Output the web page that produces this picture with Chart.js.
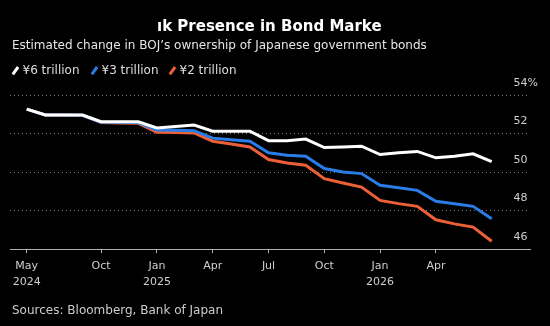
<!DOCTYPE html>
<html>
<head>
<meta charset="utf-8">
<script src="https://cdn.jsdelivr.net/npm/chart.js@4.4.1/dist/chart.umd.min.js"></script>
<style>
html, body { margin: 0; padding: 0; background: #000; }
#wrap { position: relative; width: 550px; height: 326px; overflow: hidden; font-family: "DejaVu Sans", sans-serif; color: #ddd; }
#chart { position: absolute; left: 0; top: 0; }
.txt { position: absolute; white-space: nowrap; }
.title { left: 157px; top: 17px; font-size: 15px; line-height: 18px; font-weight: bold; color: #fff; }
.subtitle { left: 12px; top: 37px; font-size: 12px; line-height: 16px; color: #e6e6e6; }
.legend { top: 63px; font-size: 12px; line-height: 14px; color: #ddd; }
.legend i { display: inline-block; width: 2.5px; height: 9px; margin: 0 6px 0 2px; vertical-align: -1px; transform: rotate(36deg); }
.source { left: 12px; top: 303px; font-size: 12px; line-height: 14px; color: #ccc; }
</style>
</head>
<body>
<div id="wrap">
  <canvas id="chart" width="550" height="326"></canvas>
  <div class="txt title">ık Presence in Bond Marke</div>
  <div class="txt subtitle">Estimated change in BOJ’s ownership of Japanese government bonds</div>
  <div class="txt legend" id="legend"></div>
  <div class="txt source">Sources: Bloomberg, Bank of Japan</div>
</div>
<script>
// month-end readings, May 2024 .. Jun 2026
var months = ['May 2024', 'Jun 2024', 'Jul 2024', 'Aug 2024', 'Sep 2024', 'Oct 2024', 'Nov 2024', 'Dec 2024',
    'Jan 2025', 'Feb 2025', 'Mar 2025', 'Apr 2025', 'May 2025', 'Jun 2025', 'Jul 2025', 'Aug 2025',
    'Sep 2025', 'Oct 2025', 'Nov 2025', 'Dec 2025', 'Jan 2026', 'Feb 2026', 'Mar 2026', 'Apr 2026',
    'May 2026', 'Jun 2026'];

// BOJ share of JGBs (%) under each quarterly taper pace
var sixTrillion = [53.27, 52.96, 52.96, 52.96, 52.61, 52.61, 52.61, 52.29, 52.37, 52.44, 52.12, 52.12, 52.12,
    51.63, 51.62, 51.71, 51.27, 51.30, 51.34, 50.91, 51.00, 51.07, 50.74, 50.82, 50.95, 50.54];
var threeTrillion = [53.27, 52.96, 52.96, 52.95, 52.59, 52.58, 52.57, 52.18, 52.17, 52.15, 51.76, 51.68, 51.60,
    51.00, 50.87, 50.82, 50.18, 50.00, 49.92, 49.31, 49.19, 49.05, 48.48, 48.36, 48.22, 47.57];
var twoTrillion = [53.27, 52.96, 52.96, 52.94, 52.57, 52.55, 52.53, 52.06, 52.05, 52.03, 51.60, 51.46, 51.30,
    50.65, 50.47, 50.35, 49.66, 49.43, 49.22, 48.53, 48.36, 48.22, 47.52, 47.31, 47.14, 46.41];

var seriesNames = ['¥6 trillion', '¥3 trillion', '¥2 trillion'];
var seriesColors = ['#ffffff', '#2a7de6', '#ec6038'];

var tickMonths = [1, 5, 8, 11, 14, 17, 20, 23];
var tickLabels = [['May', '2024'], 'Oct', ['Jan', '2025'], 'Apr', 'Jul', 'Oct', ['Jan', '2026'], 'Apr'];
var yTicks = [46, 48, 50, 52, 54];

function toPoints(values) {
    return values.map(function (v, i) {
        return { x: i + 1, y: v };
    });
}

// legend row
var legendLeft = [12, 91, 169];
var legendEl = document.getElementById('legend');
legendEl.style.left = '0px';
seriesNames.forEach(function (name, i) {
    var item = document.createElement('span');
    item.className = 'txt';
    item.style.left = legendLeft[i] + 'px';
    item.innerHTML = '<i style="background:' + seriesColors[i] + '"></i>' + name;
    legendEl.appendChild(item);
});

var series = [sixTrillion, threeTrillion, twoTrillion];
var datasets = series.map(function (values, i) {
    return {
        label: seriesNames[i],
        data: toPoints(values),
        borderColor: seriesColors[i],
        borderWidth: 3,
        pointRadius: 0,
        tension: 0,
        fill: false
    };
});

var axisFont = { family: 'DejaVu Sans', size: 11, lineHeight: 1.45 };

new Chart(document.getElementById('chart').getContext('2d'), {
    type: 'line',
    data: { datasets: datasets },
    options: {
        responsive: false,
        animation: false,
        devicePixelRatio: 1,
        layout: { padding: { top: 95, left: 10, right: 4, bottom: 31 } },
        plugins: {
            legend: { display: false },
            tooltip: { enabled: false }
        },
        scales: {
            x: {
                type: 'linear',
                min: 0.1,
                max: 28.06,
                afterBuildTicks: function (scale) {
                    scale.ticks = tickMonths.map(function (m) { return { value: m }; });
                },
                ticks: {
                    autoSkip: false,
                    maxRotation: 0,
                    padding: 5,
                    color: '#cfcfcf',
                    font: axisFont,
                    callback: function (value, index) {
                        return tickLabels[index];
                    }
                },
                grid: {
                    drawOnChartArea: false,
                    drawTicks: true,
                    tickLength: 4,
                    color: '#b0b0b0'
                },
                border: { display: true, color: '#b0b0b0', width: 1 }
            },
            y: {
                position: 'right',
                min: 46,
                max: 54,
                afterBuildTicks: function (scale) {
                    scale.ticks = yTicks.map(function (v) { return { value: v }; });
                },
                ticks: {
                    mirror: true,
                    crossAlign: 'far',
                    padding: 8,
                    labelOffset: -12,
                    color: '#cfcfcf',
                    font: axisFont,
                    callback: function (value) {
                        return value === 54 ? value + '%' : value;
                    }
                },
                grid: {
                    drawTicks: false,
                    color: '#777777',
                    lineWidth: 1
                },
                border: { display: false, dash: [1, 3] }
            }
        }
    }
});
</script>
</body>
</html>
